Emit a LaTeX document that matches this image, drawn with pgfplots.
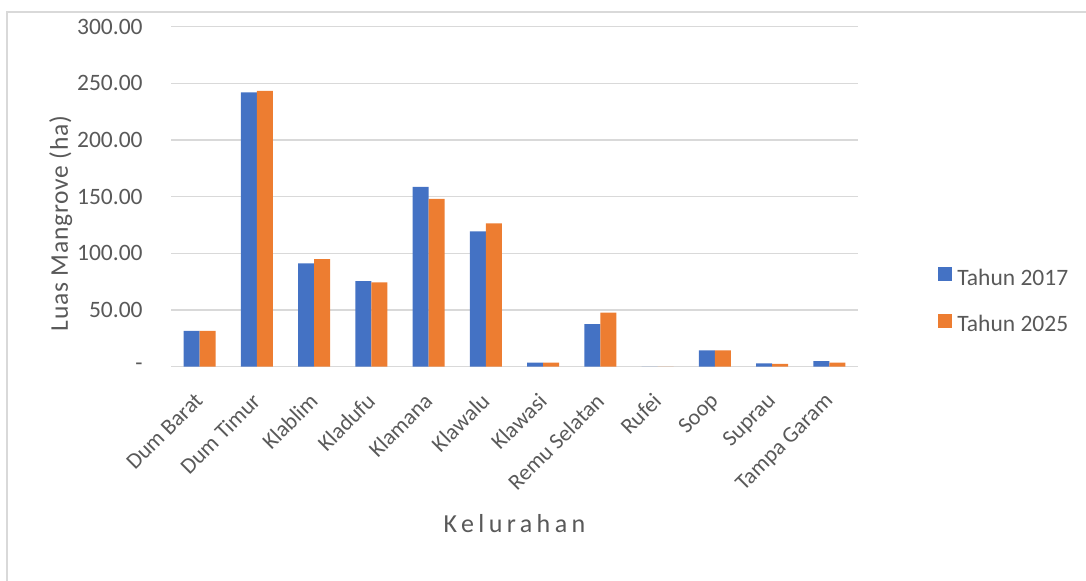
\documentclass[border=0pt]{standalone}
\usepackage{pgfplots}
\pgfplotsset{compat=1.18}
\usepackage{fontspec}
\setmainfont{Carlito}
\definecolor{cBlue}{HTML}{4472C4}
\definecolor{cOrange}{HTML}{ED7D31}
\definecolor{cGrid}{HTML}{D9D9D9}
\definecolor{cText}{HTML}{595959}
\begin{document}
\begin{tikzpicture}
\useasboundingbox (0,0) rectangle (543pt,290.5pt);
\draw[cGrid, line width=0.75pt] (3.5pt,-1pt) -- (3.5pt,284.5pt) -- (544pt,284.5pt);
\begin{axis}[
  at={(85.5pt,107.15pt)}, anchor=south west,
  scale only axis, width=343.5pt, height=170pt,
  ybar=0pt, bar width=8pt,
  xmin=-0.5, xmax=11.5, ymin=0, ymax=300,
  axis line style={draw=none},
  major tick style={draw=none},
  ymajorgrids, grid style={cGrid, line width=0.75pt},
  ytick={0,50,...,300},
  yticklabels={-,50.00,100.00,150.00,200.00,250.00,300.00},
  yticklabel style={anchor=east, inner sep=0pt, xshift=-14pt, font=\fontsize{11.75}{14}\selectfont, text=cText},
  xtick={0,...,11},
  xticklabels={Dum Barat,Dum Timur,Klablim,Kladufu,Klamana,Klawalu,Klawasi,Remu Selatan,Rufei,Soop,Suprau,Tampa Garam},
  xticklabel style={xshift=-3pt, yshift=-8pt, rotate=45, anchor=north east, inner sep=0pt, font=\fontsize{11.25}{14}\selectfont, text=cText},
  xlabel={Kelurahan},
  xlabel style={at={(axis description cs:0.5,-0.489)}, anchor=base, inner sep=0pt, font=\fontsize{13}{15}\selectfont\addfontfeature{LetterSpace=17}, text=cText},
  ylabel={Luas Mangrove (ha)},
  ylabel style={at={(axis description cs:-0.15,0.421)}, rotate=0, anchor=base, inner sep=0pt, font=\fontsize{12.75}{15}\selectfont\addfontfeature{LetterSpace=3}, text=cText},
  legend style={at={(1.1164,0.2932)}, anchor=north west, draw=none, fill=none, inner sep=0pt,
    nodes={inner sep=0pt, text height=8.5pt, text depth=3pt, font=\fontsize{11.75}{14}\selectfont, text=cText},
    row sep=11.25pt,
    /tikz/every odd column/.append style={column sep=2.5pt}},
  legend cell align=left,
  legend image code/.code={\fill[#1] (0pt,-0.75pt) rectangle (7pt,6.25pt);},
]
\addplot[fill=cBlue, draw=none] coordinates {
(0,31.5) (1,242.1) (2,91.2) (3,75.6) (4,158.6) (5,119.4) (6,3.5) (7,37.6) (8,0) (9,14.4) (10,3.0) (11,5.0)};
\addplot[fill=cOrange, draw=none] coordinates {
(0,31.5) (1,243.3) (2,95.0) (3,74.5) (4,148.0) (5,126.5) (6,3.5) (7,47.6) (8,0) (9,14.4) (10,2.4) (11,3.5)};
\legend{Tahun 2017, Tahun 2025}
\end{axis}
\end{tikzpicture}
\end{document}
